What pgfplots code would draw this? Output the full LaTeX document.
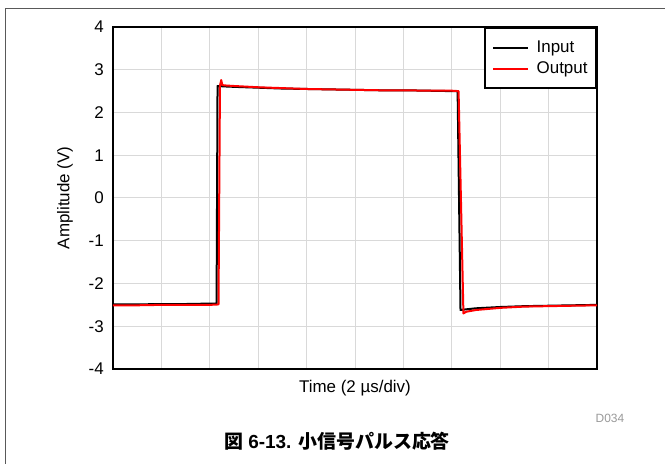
\documentclass[border=0pt]{standalone}
\usepackage{fontspec}
\setmainfont{Liberation Sans}
\newfontfamily\cjk{Noto Sans CJK JP}
\usepackage{pgfplots}
\pgfplotsset{compat=1.18}

\definecolor{gridgray}{RGB}{217,217,217}
\definecolor{outred}{RGB}{255,0,0}

\pgfplotstableread{
t v
0 -2.49
1 -2.49
2 -2.48
3 -2.48
4 -2.47
4.28 -2.47
4.32 2.62
4.6 2.61
5 2.60
6 2.58
7 2.56
8 2.55
9 2.54
10 2.53
11 2.52
12 2.52
13 2.51
14 2.50
14.24 2.50
14.36 -2.62
14.5 -2.61
15 -2.58
16 -2.55
17 -2.53
18 -2.52
19 -2.51
20 -2.50
}\inputdata

\pgfplotstableread{
t v
0 -2.51
1 -2.51
2 -2.50
3 -2.50
4 -2.50
4.36 -2.49
4.42 2.62
4.47 2.76
4.52 2.64
4.7 2.63
5 2.62
6 2.59
7 2.57
8 2.55
9 2.54
10 2.53
11 2.52
12 2.52
13 2.51
14 2.51
14.28 2.50
14.48 -2.70
14.6 -2.66
15 -2.62
16 -2.57
17 -2.54
18 -2.53
19 -2.52
20 -2.51
}\outputdata

\begin{document}
\begin{tikzpicture}[x=1bp,y=1bp]
  % page size and outer frame (top and left edges only)
  \useasboundingbox (-113,-95) rectangle (552,369);
  \draw[black!65, line width=1bp] (-107,-95) -- (-107,360) -- (552,360);

  \begin{axis}[
      at={(0,0)}, anchor=south west,
      scale only axis,
      width=484bp, height=342bp,
      xmin=0, xmax=20, ymin=-4, ymax=4,
      xtick={0,2,...,20}, xticklabels={},
      ytick={-4,-3,...,4},
      yticklabels={-4,-3,-2,-1,0,1,2,3,4},
      grid=major,
      major grid style={gridgray, line width=1bp},
      major tick length=0pt,
      axis line style={black, line width=2.2bp},
      tick label style={font=\fontsize{17}{20}\selectfont},
      yticklabel style={inner sep=0pt, xshift=-9bp},
      xlabel={Time (2 µs/div)},
      ylabel={Amplitude (V)},
      every axis x label/.style={at={(axis description cs:0.5,-0.056)}, anchor=center,
        font=\fontsize{17}{20}\selectfont},
      every axis y label/.style={at={(axis description cs:-0.099,0.5)}, anchor=center,
        rotate=90, font=\fontsize{17}{20}\selectfont},
      legend cell align=left,
      legend image code/.code={\draw[#1] (0bp,0bp) -- (35bp,0bp);},
      legend style={at={(1,1)}, anchor=north east, draw=black, line width=2bp,
        font=\fontsize{17}{20}\selectfont, inner xsep=7bp, inner ysep=11.5bp,
        row sep=5bp, column sep=6bp, nodes={inner sep=1.5bp}},
    ]
    \addplot[black, line width=2bp, line join=round] table[x=t, y=v] {\inputdata};
    \addlegendentry{Input}
    \addplot[outred, line width=2bp, line join=round] table[x=t, y=v] {\outputdata};
    \addlegendentry{Output}
  \end{axis}

  \node[text=black!40, font=\fontsize{12}{14}\selectfont] at (497,-49) {D034};
  \node[font=\fontsize{19}{22}\selectfont\bfseries] at (224,-72)
    {{\cjk 図} 6-13. {\cjk 小信号パルス応答}};
\end{tikzpicture}
\end{document}
